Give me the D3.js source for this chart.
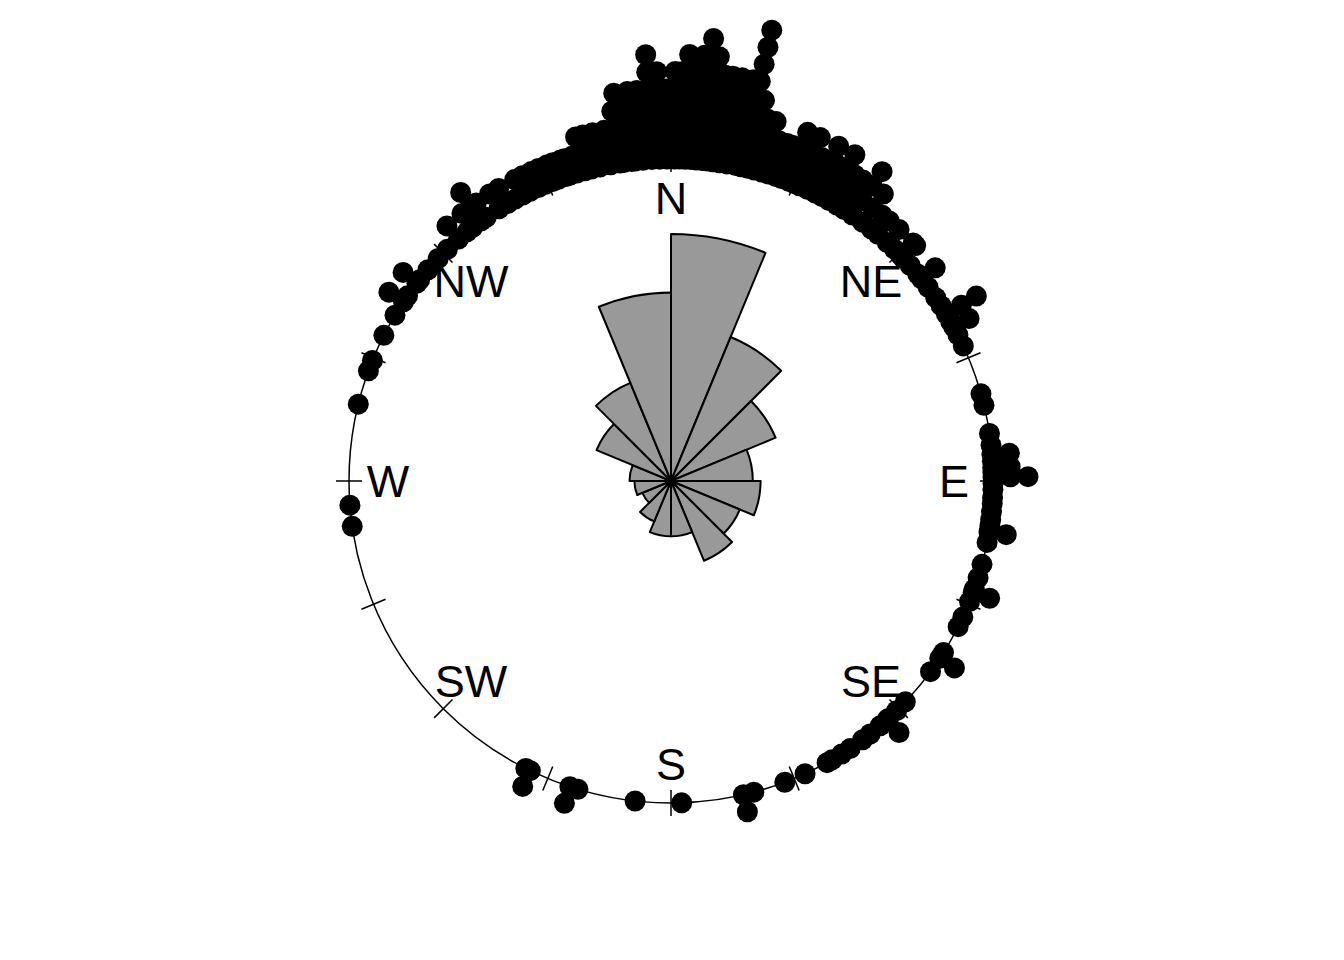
<!DOCTYPE html>
<html>
<head>
<meta charset="utf-8">
<script src="https://cdn.jsdelivr.net/npm/d3@7"></script>
<style>
  body { margin: 0; background: #fff; }
  svg text { font-family: "Liberation Sans", Arial, sans-serif; }
</style>
</head>
<body>
<div id="chart"></div>
<script>
// compass labels (every 45 deg) and tick positions (every 22.5 deg)
const compassLabels = ["N", "NE", "E", "SE", "S", "SW", "W", "NW"];
const tickAngles = d3.range(0, 360, 22.5);

// rose diagram: 16 sectors of 22.5 deg, relative frequency per sector
const roseStarts = d3.range(0, 360, 22.5);
const roseProps = [0.319, 0.127, 0.067, 0.035, 0.042, 0.029, 0.039, 0.016,
                   0.016, 0.010, 0.005, 0.007, 0.009, 0.034, 0.059, 0.186];

// stacked points: bin direction (deg, clockwise from N) and number of stacked points
const stackAngles = [
  261.9, 265.7, 283.8, 290, 292, 296.9, 301, 303.8, 305.1, 307.9, 308.7, 311, 313.7, 316,
  318.7, 320.7, 322, 323.9, 325, 327.7, 329.5, 331, 332.6, 334, 335.7, 337, 338.5, 339.6,
  341, 341.7, 343, 344.5, 345.7, 347.3, 349.2, 350.9, 351.6, 353, 353.6, 355, 356.6, 358,
  359.3, 0.6, 1.5, 2.5, 3.5, 4.5, 5.5, 6.5, 7.5, 8.7, 10, 11.6, 12.6, 13.8, 15, 16.3,
  17.6, 19, 20, 21.4, 22.5, 23.5, 25, 26.6, 28, 29.4, 31, 32.5, 34.3, 36.5, 38.5, 40,
  42.2, 44, 45.5, 46.1, 48, 50, 51.1, 53, 55.3, 57, 58.8, 60.3, 61.4, 63, 65.2, 74.3,
  76.4, 81.5, 83.6, 85.3, 86.5, 87.6, 88.5, 89.3, 90.5, 91.5, 93, 94, 95.5, 96.9, 98,
  99.1, 101, 105, 107.5, 109.6, 110.2, 112, 115, 116.9, 122.2, 123.4, 126.3, 133.3,
  135.5, 137.5, 137.8, 139.5, 141.8, 143.5, 146.2, 148, 150, 151, 155.4, 159.3, 165.1,
  167, 178.1, 186.4, 196.8, 198.3, 205.9, 206.8
];
const stackCounts = [
  1, 1, 1, 1, 1, 1, 1, 2, 1, 2, 1, 1, 1, 1,
  2, 1, 2, 3, 2, 2, 2, 1, 2, 2, 2, 2, 2, 2,
  2, 2, 2, 3, 3, 3, 3, 4, 5, 4, 5, 5, 7, 6,
  5, 6, 6, 7, 6, 7, 8, 7, 6, 6, 6, 6, 9, 5, 4, 4,
  3, 3, 3, 4, 3, 4, 3, 4, 3, 4, 3, 3, 4, 3, 2, 2,
  2, 1, 2, 2, 1, 1, 2, 1, 1, 1, 3, 1, 2, 1, 1, 1,
  1, 1, 1, 2, 1, 2, 1, 3, 1, 1, 1, 1, 1, 1, 1,
  2, 1, 1, 1, 1, 2, 1, 1, 1, 1, 2, 1, 1,
  1, 1, 2, 1, 1, 1, 1, 1, 1, 1, 1, 1, 1,
  2, 1, 1, 1, 2, 2, 1
];

const width = 1344, height = 960;
const cx = 671, cy = 481;
const R = 322;

const svg = d3.select("#chart").append("svg")
    .attr("width", width)
    .attr("height", height);

const g = svg.append("g").attr("transform", `translate(${cx},${cy})`);

const ang = d3.scaleLinear().domain([0, 360]).range([0, 2 * Math.PI]);
const stackR = d3.scaleLinear().domain([0, 1]).range([R, R + 17.5]);
const roseR = d3.scaleSqrt().domain([0, d3.max(roseProps)]).range([0, 247]);

const px = (deg, r) => r * Math.sin(ang(deg));
const py = (deg, r) => -r * Math.cos(ang(deg));

// circle
g.append("circle")
    .attr("r", R)
    .attr("fill", "none")
    .attr("stroke", "#000")
    .attr("stroke-width", 1.5);

// ticks
g.append("g").selectAll("line")
    .data(tickAngles)
    .join("line")
    .attr("x1", d => px(d, R - 13))
    .attr("y1", d => py(d, R - 13))
    .attr("x2", d => px(d, R + 13))
    .attr("y2", d => py(d, R + 13))
    .attr("stroke", "#000")
    .attr("stroke-width", 1.5);

// stacked points
const points = stackAngles.flatMap((a, i) =>
    d3.range(stackCounts[i]).map(k => ({ angle: a, k })));

g.append("g").selectAll("circle")
    .data(points)
    .join("circle")
    .attr("cx", d => px(d.angle, stackR(d.k)))
    .attr("cy", d => py(d.angle, stackR(d.k)))
    .attr("r", 10.5)
    .attr("fill", "#000");

// compass labels
g.append("g").selectAll("text")
    .data(compassLabels)
    .join("text")
    .attr("x", (d, i) => px(i * 45, 283))
    .attr("y", (d, i) => py(i * 45, 283) + 16)
    .attr("text-anchor", "middle")
    .style("font-size", "45px")
    .attr("fill", "#000")
    .text(d => d);

// rose diagram
const arc = d3.arc();
g.append("g").selectAll("path")
    .data(roseProps)
    .join("path")
    .attr("d", (d, i) => arc({
        innerRadius: 0,
        outerRadius: roseR(d),
        startAngle: ang(roseStarts[i]),
        endAngle: ang(roseStarts[i] + 22.5)
    }))
    .attr("fill", "#999999")
    .attr("stroke", "#000")
    .attr("stroke-width", 2)
    .attr("stroke-linejoin", "round");
</script>
</body>
</html>
